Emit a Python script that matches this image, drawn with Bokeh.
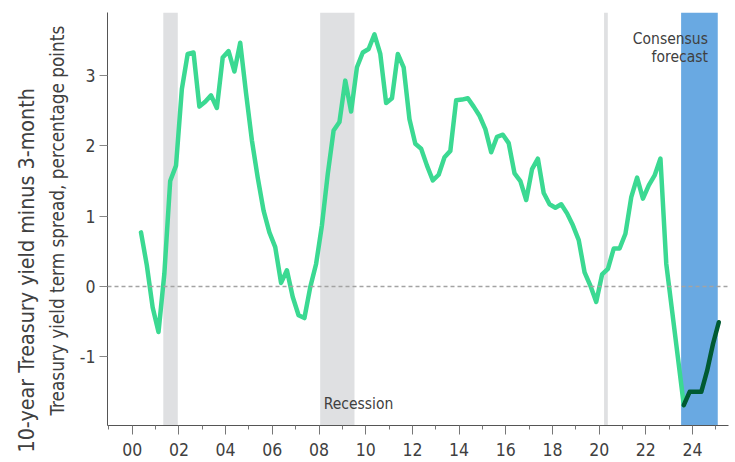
import numpy as np
from bokeh.plotting import figure
from bokeh.models import ColumnDataSource, FixedTicker, Span, Label, Range1d, Title
from bokeh.embed import file_html
from bokeh.resources import INLINE

# ---------------- data ----------------
hist_start = 2000.375          # 2000 Q2 (mid-quarter), quarterly
spread_hist = [0.77, 0.30, -0.30, -0.65, 0.18, 1.50, 1.72, 2.81, 3.31, 3.33,
               2.56, 2.63, 2.72, 2.54, 3.26, 3.35, 3.06, 3.47, 2.75, 2.08,
               1.55, 1.08, 0.77, 0.56, 0.05, 0.23, -0.15, -0.41, -0.45, -0.01,
               0.32, 0.87, 1.60, 2.22, 2.34, 2.93, 2.49, 3.12, 3.33, 3.38,
               3.59, 3.31, 2.61, 2.68, 3.31, 3.12, 2.38, 2.03, 1.96, 1.72,
               1.51, 1.59, 1.84, 1.93, 2.65, 2.66, 2.68, 2.56, 2.43, 2.24,
               1.91, 2.13, 2.16, 2.04, 1.61, 1.50, 1.23, 1.67, 1.82, 1.33,
               1.17, 1.12, 1.17, 1.04, 0.87, 0.66, 0.20, 0.01, -0.22, 0.17,
               0.25, 0.54, 0.54, 0.75, 1.27, 1.55, 1.25, 1.44, 1.58, 1.82,
               0.32, -0.35, -1.02, -1.69]
fc_start = 2023.625            # forecast begins at last actual quarter
spread_fc = [-1.69, -1.50, -1.50, -1.50, -1.20, -0.82, -0.51]

recession_start = [2001.33, 2008.05, 2020.21]
recession_end = [2001.95, 2009.52, 2020.37]
forecast_band = [2023.51, 2025.08]

major_years = list(range(2000, 2025, 2))
minor_years = list(range(1999, 2026, 2))
tick_labels = ["00", "02", "04", "06", "08", "10", "12", "14", "16", "18",
               "20", "22", "24"]
y_ticks = [-1, 0, 1, 2, 3]
y_tick_labels = ["-1", "0", "1", "2", "3"]

ylabel_1 = "10-year Treasury yield minus 3-month"
ylabel_2 = "Treasury yield term spread, percentage points"

# ---------------- figure ----------------
X0, X1 = 1998.94, 2025.54
Y0, Y1 = -1.98, 3.90
FONT = "DejaVu Sans Condensed"
TXT = "#404040"

p = figure(width=735, height=462, output_backend="svg",
           toolbar_location=None, x_range=Range1d(X0, X1),
           y_range=Range1d(Y0, Y1))
p.min_border_left = 107
p.min_border_right = 7
p.min_border_top = 12
p.min_border_bottom = 37
p.outline_line_color = None
p.xgrid.visible = False
p.ygrid.visible = False
p.background_fill_color = "white"
p.border_fill_color = "white"

hist_x = hist_start + 0.25 * np.arange(len(spread_hist))
fc_x = fc_start + 0.25 * np.arange(len(spread_fc))

rec_src = ColumnDataSource(dict(left=recession_start, right=recession_end,
                                bottom=[Y0] * 3, top=[Y1] * 3))
p.quad(left="left", right="right", bottom="bottom", top="top", source=rec_src,
       fill_color="#dfe0e2", line_color=None)
p.quad(left=[forecast_band[0]], right=[forecast_band[1]], bottom=[Y0], top=[Y1],
       fill_color="#69a9e2", line_color=None)

p.add_layout(Span(location=0, dimension="width", line_color="#a3a3a3",
                  line_width=1.5, line_dash="4 3"))

p.line(hist_x, spread_hist, line_color="#3bd992", line_width=4.5,
       line_join="round", line_cap="round")
p.line(fc_x, spread_fc, line_color="#005a32", line_width=4.5,
       line_join="round", line_cap="round")

# axes
xa = p.xaxis[0]
xa.ticker = FixedTicker(ticks=major_years, minor_ticks=minor_years)
xa.major_label_overrides = {y: l for y, l in zip(major_years, tick_labels)}
xa.axis_line_color = "#555555"
xa.major_tick_line_color = "#777777"
xa.minor_tick_line_color = "#777777"
xa.major_tick_out = 9
xa.major_tick_in = 0
xa.minor_tick_out = 4
xa.minor_tick_in = 0
xa.major_label_standoff = 8
xa.major_label_text_font = FONT
xa.major_label_text_font_size = "17.5px"
xa.major_label_text_color = TXT

ya = p.yaxis[0]
ya.ticker = FixedTicker(ticks=y_ticks)
ya.major_label_overrides = {t: l for t, l in zip(y_ticks, y_tick_labels)}
ya.axis_line_color = "#555555"
ya.major_tick_line_color = "#888888"
ya.major_tick_out = 8
ya.major_tick_in = 0
ya.minor_tick_line_color = None
ya.major_label_standoff = 4
ya.major_label_text_font = FONT
ya.major_label_text_font_size = "17.5px"
ya.major_label_text_color = TXT

# y-axis title (two lines, as side titles)
t2 = Title(text=ylabel_2, align="left", offset=10, standoff=16.6,
           text_font=FONT, text_font_size="18.8px", text_font_style="normal",
           text_color=TXT)
p.add_layout(t2, "left")
t1 = Title(text=ylabel_1, align="left", offset=-27, standoff=-5,
           text_font=FONT, text_font_size="21.3px", text_font_style="normal",
           text_color=TXT)
p.add_layout(t1, "left")

# annotations
p.add_layout(Label(x=2008.2, y=-1.68, text="Recession", text_align="left",
                   text_baseline="alphabetic", text_font=FONT,
                   text_font_size="15.5px", text_color=TXT))
p.add_layout(Label(x=2024.66, y=3.52, text="Consensus", text_align="right",
                   text_baseline="alphabetic", text_font=FONT,
                   text_font_size="15.5px", text_color=TXT))
p.add_layout(Label(x=2024.66, y=3.27, text="forecast", text_align="right",
                   text_baseline="alphabetic", text_font=FONT,
                   text_font_size="15.5px", text_color=TXT))

open("out.html", "w").write(file_html(p, INLINE))
